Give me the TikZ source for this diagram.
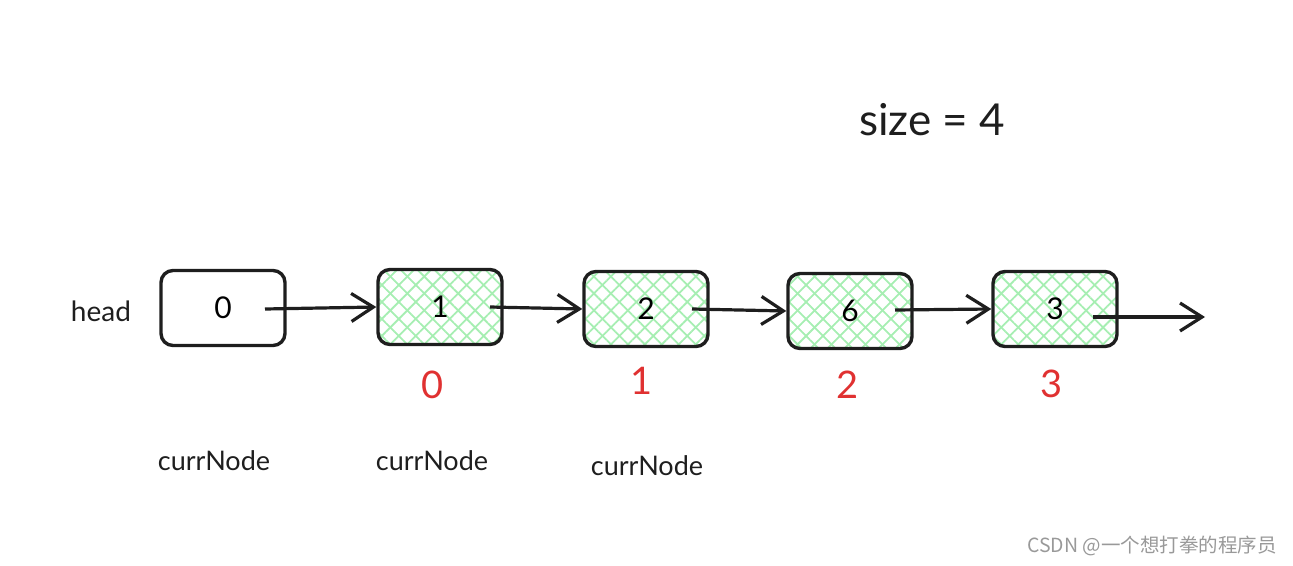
\documentclass[tikz,border=0pt]{standalone}
\usepackage{fontspec}
\setmainfont{Lato}
\newfontfamily\cjk{Noto Sans CJK SC}
\usetikzlibrary{arrows.meta,patterns.meta}
\definecolor{ink}{HTML}{1E1E1E}
\definecolor{hatch}{HTML}{A6EEB2}
\definecolor{redink}{HTML}{E03131}
\tikzset{
  plainbox/.style={draw=ink, line width=3.4pt, rounded corners=12pt, minimum width=124pt, minimum height=75pt, inner sep=0pt, font=\fontsize{30}{34}\selectfont},
  greenbox/.style={plainbox,
    preaction={pattern={Lines[angle=45,distance=12pt,line width=1.8pt]}, pattern color=hatch},
    preaction={pattern={Lines[angle=-45,distance=12pt,line width=1.8pt]}, pattern color=hatch}},
  link/.style={draw=ink, line width=3.2pt, -{Straight Barb[length=22pt,width=28pt,line width=3.2pt]}},
  idx/.style={text=redink, font=\fontsize{38}{42}\selectfont},
  lbl/.style={text=ink, font=\fontsize{27}{32}\selectfont}
}
\begin{document}
\begin{tikzpicture}[x=1pt,y=-1pt]
\useasboundingbox (0,0) rectangle (1293,565);
\node[plainbox] (n0) at (223,308) {0};
\node[greenbox] (n1) at (440,307) {1};
\node[greenbox] (n2) at (646,309) {2};
\node[greenbox] (n3) at (850,311) {6};
\node[greenbox] (n4) at (1055,309) {3};
\coordinate (s0) at (265,309);
\coordinate (s1) at (490,307);
\coordinate (s2) at (692,309);
\coordinate (s3) at (895,310);
\coordinate (s4) at (1093,317);
\coordinate (end) at (1205,317);
\draw[link] (s0) -- (n1.west);
\draw[link] (s1) -- (n2.west);
\draw[link] (s2) -- (n3.west);
\draw[link] (s3) -- (n4.west);
\draw[link] (s4) -- (end);
\node[lbl, font=\fontsize{28}{32}\selectfont] (head) at (101,311) {head};
\node[idx] (i0) at (433,385) {0};
\node[idx] (i1) at (642,381) {1};
\node[idx] (i2) at (848,385) {2};
\node[idx] (i3) at (1052,384) {3};
\node[lbl] (c0) at (214,461) {currNode};
\node[lbl] (c1) at (432,461) {currNode};
\node[lbl] (c2) at (647,466) {currNode};
\node[text=ink, font=\fontsize{44}{48}\selectfont] (size) at (932,120) {size = 4};
\node[text=black!40, font=\cjk\fontsize{19.5}{23}\selectfont] (wm) at (1152,546) {CSDN @一个想打拳的程序员};
\end{tikzpicture}
\end{document}
